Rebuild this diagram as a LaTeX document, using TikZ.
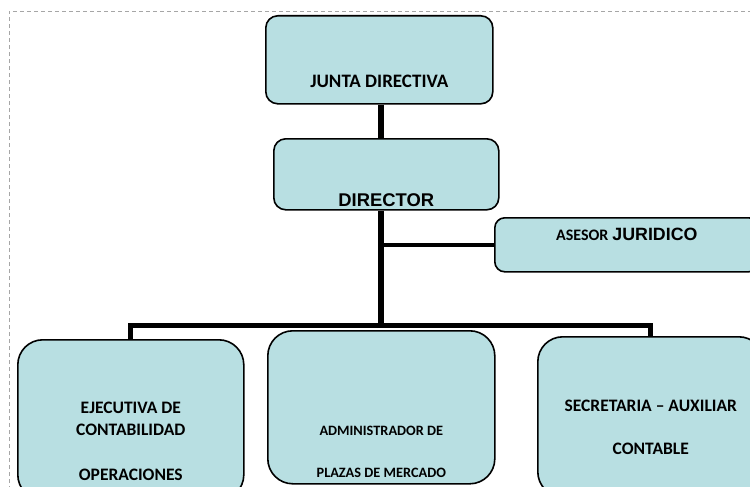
\documentclass[tikz,border=0pt]{standalone}
\usepackage{fontspec}
\setmainfont{Carlito}
\newfontfamily\arialfont{Liberation Sans}
\definecolor{cajafill}{RGB}{184,223,226}

\begin{document}
\begin{tikzpicture}[x=1pt,y=-1pt]

\tikzset{cargo/.style = {draw, line width=1.6pt, fill=cajafill, anchor=north west,
  inner sep=0pt, align=center, font=\bfseries\fontsize{17.5}{22}\selectfont}}
\tikzset{tronco/.style = {line width=6.5pt}}
\tikzset{rama/.style = {line width=5pt}}
\useasboundingbox (0,0) rectangle (750,487);
% marco
\draw[gray!70, line width=0.6pt, dash pattern=on 4pt off 3pt] (9,497) |- (760,11);
% cargos
\node[cargo, rounded corners=12pt, minimum width=227pt, text height=72pt, text depth=16pt,
  font=\bfseries\fontsize{19}{22}\selectfont] (junta) at (265,15) {JUNTA DIRECTIVA};
\node[cargo, rounded corners=12pt, minimum width=225pt, text height=68pt, text depth=3pt,
  font=\arialfont\bfseries\fontsize{18.4}{22}\selectfont] (director) at (273,138) {DIRECTOR};
\node[cargo, rounded corners=10pt, minimum width=264pt, text height=23pt, text depth=31pt] (asesor) at (494,217)
  {{\fontsize{16}{20}\selectfont ASESOR} {\arialfont\fontsize{17.8}{20}\selectfont JURIDICO}};
\node[cargo, rounded corners=25pt, minimum width=226pt, text height=141pt, text depth=19pt] (ejecutiva) at (17,339)
  {EJECUTIVA DE\\CONTABILIDAD\\[23pt]OPERACIONES};
\node[cargo, rounded corners=25pt, minimum width=227pt, text height=147pt, text depth=6pt,
  font=\bfseries\fontsize{14.3}{17}\selectfont] (admin) at (267,330)
  {ADMINISTRADOR DE\\[25pt]PLAZAS DE MERCADO};
\node[cargo, rounded corners=25pt, minimum width=226pt, text height=118pt, text depth=42pt] (secretaria) at (537,336)
  {SECRETARIA -- AUXILIAR\\[21pt]CONTABLE};
% lineas
\coordinate (bus) at (381,325);
\draw[tronco] (junta.south -| bus) -- (director.north -| bus);
\draw[tronco] (director.south -| bus) -- (bus);
\draw[line width=4.5pt] (bus |- asesor.west) -- (asesor.west);
\draw[rama] (ejecutiva.north) |- (bus) -| (secretaria.north);

\end{tikzpicture}
\end{document}
